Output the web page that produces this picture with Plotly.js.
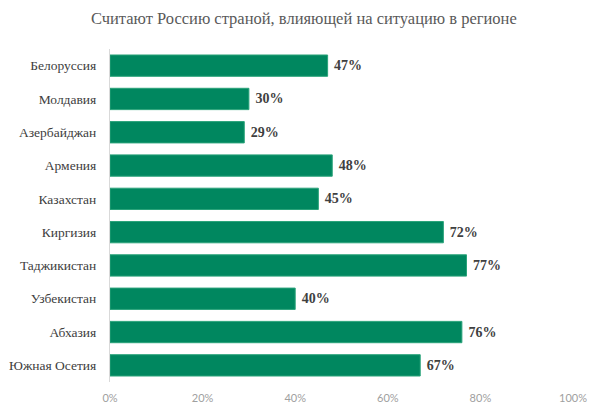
<!DOCTYPE html>
<html><head><meta charset="utf-8">
<script src="https://cdn.plot.ly/plotly-3.0.1.min.js"></script>
<style>html,body{margin:0;padding:0;background:#fff}</style>
</head><body>
<div id="chart" style="width:590px;height:405px"></div>
<script>
const countries = ["Белоруссия","Молдавия","Азербайджан","Армения","Казахстан","Киргизия","Таджикистан","Узбекистан","Абхазия","Южная Осетия"];
const values = [47,30,29,48,45,72,77,40,76,67];
const tickVals = [0,20,40,60,80,100];
const tickText = ["0%","20%","40%","60%","80%","100%"];

const SERIF = '"Liberation Serif", "Times New Roman", serif';

const trace = {
  type: 'bar',
  orientation: 'h',
  x: values,
  y: countries,
  text: values.map(v => '\u00a0' + v + '%'),
  textposition: 'outside',
  cliponaxis: false,
  textfont: {family: SERIF, size: 14, color: '#404040', weight: 'bold'},
  marker: {color: '#00875f', line: {color: '#2aa37a', width: 1}},
  hoverinfo: 'skip'
};

const layout = {
  width: 590, height: 405,
  margin: {l: 110, r: 17, t: 49, b: 23},
  paper_bgcolor: '#fff', plot_bgcolor: '#fff',
  showlegend: false,
  bargap: 0.36,
  title: {text: 'Считают Россию страной, влияющей на ситуацию в регионе',
    font: {family: SERIF, size: 16.5, color: '#595959'},
    x: 0.515, xanchor: 'center', y: 0.955, yanchor: 'middle'},
  xaxis: {range: [0, 100], tickvals: tickVals, ticktext: tickText, showgrid: false,
    zeroline: false, showline: false, ticks: '', ticklabelstandoff: 8,
    tickfont: {family: 'Lato', size: 11, color: '#a0a0a0'}, fixedrange: true},
  yaxis: {autorange: 'reversed', showgrid: false, zeroline: false,
    showline: true, linecolor: '#d9d9d9', linewidth: 1, ticks: '', ticklabelstandoff: 10,
    tickfont: {family: SERIF, size: 13.5, color: '#404040'}, fixedrange: true}
};

Plotly.newPlot('chart', [trace], layout, {displayModeBar: false, staticPlot: true});
</script>
</body></html>
